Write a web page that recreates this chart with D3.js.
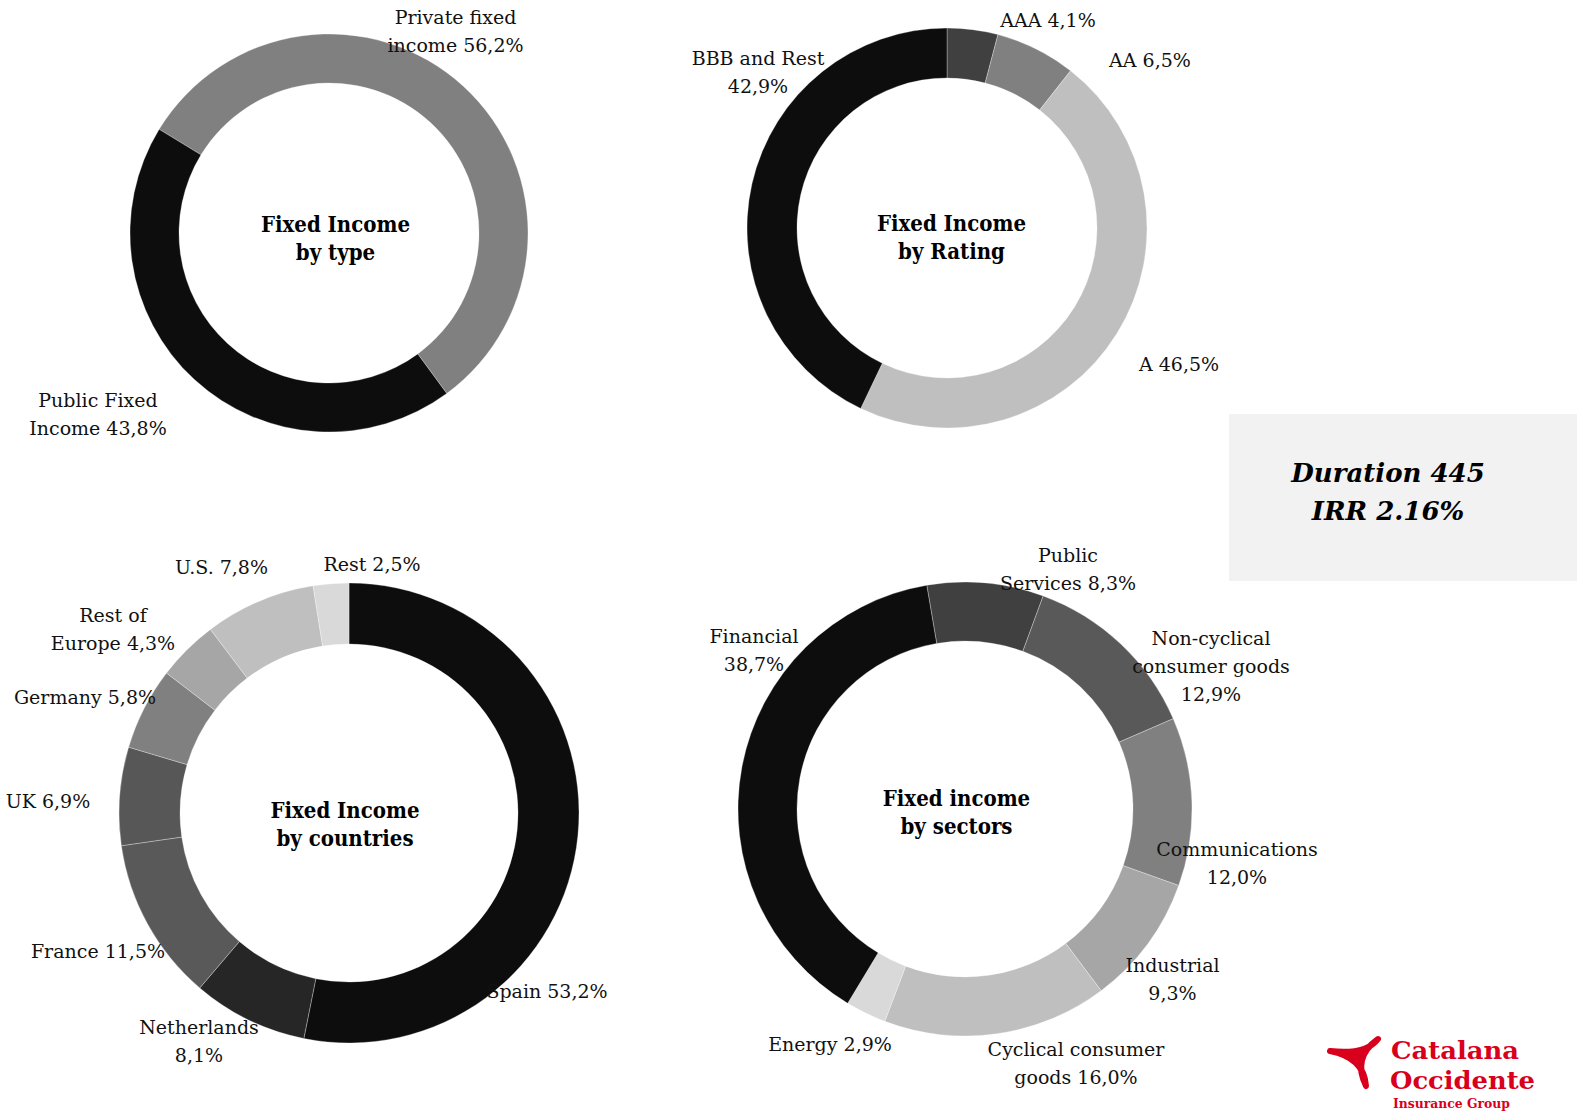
<!DOCTYPE html>
<html>
<head>
<meta charset="utf-8">
<script src="https://cdn.jsdelivr.net/npm/d3@7/dist/d3.min.js"></script>
<style>
  html, body { margin: 0; padding: 0; background: #ffffff; }
  svg { display: block; }
</style>
</head>
<body>
<svg id="chart" width="1578" height="1111"></svg>
<script>
// ---------- DATA ----------
const typeCategories = ["Private fixed|income {v}", "Public Fixed|Income {v}"];
const typeValues = [56.2, 43.8];

const ratingCategories = ["AAA {v}", "AA {v}", "A {v}", "BBB and Rest|{v}"];
const ratingValues = [4.1, 6.5, 46.5, 42.9];

const countryCategories = ["Spain {v}", "Netherlands|{v}", "France {v}", "UK {v}", "Germany {v}", "Rest of|Europe {v}", "U.S. {v}", "Rest {v}"];
const countryValues = [53.2, 8.1, 11.5, 6.9, 5.8, 4.3, 7.8, 2.5];

const sectorCategories = ["Public|Services {v}", "Non-cyclical|consumer goods|{v}", "Communications|{v}", "Industrial|{v}", "Cyclical consumer|goods {v}", "Energy {v}", "Financial|{v}"];
const sectorValues = [8.3, 12.9, 12.0, 9.3, 16.0, 2.9, 38.7];

const chartTitles = [["Fixed Income", "by type"], ["Fixed Income", "by Rating"], ["Fixed Income", "by countries"], ["Fixed income", "by sectors"]];
const boxLines = ["Duration 445", "IRR 2.16%"];
const logoLines = ["Catalana", "Occidente", "Insurance Group"];

// ---------- STYLE / LAYOUT ----------
const typeColors = ["#808080", "#0d0d0d"];
const ratingColors = ["#404040", "#808080", "#bfbfbf", "#0d0d0d"];
const countryColors = ["#0d0d0d", "#262626", "#595959", "#575757", "#808080", "#a6a6a6", "#bfbfbf", "#d9d9d9"];
const sectorColors = ["#404040", "#595959", "#808080", "#a6a6a6", "#bfbfbf", "#d9d9d9", "#0d0d0d"];

const donuts = [
  { cx: 329, cy: 233, rIn: 150, rOut: 199, start: -58.6, cats: typeCategories, vals: typeValues, colors: typeColors,
    title: chartTitles[0], titlePos: [335.5, 232],
    labelPos: [[455.5, 24], [98, 407]] },
  { cx: 947, cy: 228, rIn: 150, rOut: 200, start: 0, cats: ratingCategories, vals: ratingValues, colors: ratingColors,
    title: chartTitles[1], titlePos: [951.5, 231],
    labelPos: [[1048, 27], [1150, 67], [1179, 371], [758, 65]] },
  { cx: 349, cy: 813, rIn: 169, rOut: 230, start: 0, cats: countryCategories, vals: countryValues, colors: countryColors,
    title: chartTitles[2], titlePos: [345, 818],
    labelPos: [[547, 998], [199, 1034], [98, 958], [48, 808], [85, 704], [113, 622], [221.5, 574], [372, 571]] },
  { cx: 965, cy: 809, rIn: 168, rOut: 227, start: -9.7, cats: sectorCategories, vals: sectorValues, colors: sectorColors,
    title: chartTitles[3], titlePos: [956.5, 806],
    labelPos: [[1068, 562], [1211, 645], [1237, 856], [1172.5, 972], [1076, 1056], [830, 1051], [754, 643]] }
];

const labelFont = "'DejaVu Serif', serif";
const titleFont = "'DejaVu Serif Condensed', 'DejaVu Serif', serif";
const lineH = 28;
const fmt = v => d3.format(".1f")(v).replace(".", ",") + "%";

// ---------- DRAW ----------
const svg = d3.select("#chart");

donuts.forEach(dn => {
  const a0 = dn.start * Math.PI / 180;
  const pie = d3.pie().sort(null).value(d => d).startAngle(a0).endAngle(a0 + 2 * Math.PI);
  const arc = d3.arc().innerRadius(dn.rIn).outerRadius(dn.rOut);
  const g = svg.append("g").attr("transform", `translate(${dn.cx},${dn.cy})`);
  g.selectAll("path.slice")
    .data(pie(dn.vals))
    .join("path")
    .attr("class", "slice")
    .attr("d", arc)
    .attr("fill", (d, i) => dn.colors[i])
    .attr("stroke", "#ffffff")
    .attr("stroke-opacity", 0.5)
    .attr("stroke-width", 0.6);

  // slice labels
  dn.cats.forEach((c, i) => {
    const lines = c.replace("{v}", fmt(dn.vals[i])).split("|");
    const t = svg.append("text")
      .attr("x", dn.labelPos[i][0])
      .attr("y", dn.labelPos[i][1])
      .attr("text-anchor", "middle")
      .attr("font-family", labelFont)
      .attr("font-size", 19)
      .attr("fill", "#111");
    lines.forEach((ln, k) => {
      t.append("tspan").attr("x", dn.labelPos[i][0]).attr("dy", k === 0 ? 0 : lineH).text(ln);
    });
  });

  // center title
  const tt = svg.append("text")
    .attr("x", dn.titlePos[0]).attr("y", dn.titlePos[1])
    .attr("text-anchor", "middle")
    .attr("font-family", titleFont)
    .attr("font-weight", "bold")
    .attr("font-size", 22)
    .attr("fill", "#000");
  dn.title.forEach((ln, k) => {
    tt.append("tspan").attr("x", dn.titlePos[0]).attr("dy", k === 0 ? 0 : lineH).text(ln);
  });
});

// ---------- info box ----------
svg.append("rect")
  .attr("x", 1229).attr("y", 414).attr("width", 348).attr("height", 167)
  .attr("fill", "#f2f2f2");
const bt = svg.append("text")
  .attr("x", 1388).attr("y", 482)
  .attr("text-anchor", "middle")
  .attr("font-family", labelFont)
  .attr("font-weight", "bold")
  .attr("font-style", "italic")
  .attr("font-size", 26)
  .attr("fill", "#000");
boxLines.forEach((ln, k) => bt.append("tspan").attr("x", 1388).attr("dy", k === 0 ? 0 : 38).text(ln));

// ---------- logo ----------
const red = "#d9001d";
const logo = svg.append("g");
logo.append("path")
  .attr("d", "M1330,1051 Q1366,1055 1378,1039 Q1352,1057.5 1366,1086 Q1364,1057.5 1330,1051 Z")
  .attr("fill", red).attr("stroke", red).attr("stroke-width", 6).attr("stroke-linejoin", "round");
const logoSpecs = [
  { x: 1391, y: 1059, size: 25, len: 128 },
  { x: 1390, y: 1089, size: 25, len: 145 },
  { x: 1393, y: 1108, size: 13, len: 117 }
];
logoLines.forEach((ln, i) => {
  const s = logoSpecs[i];
  logo.append("text")
    .attr("x", s.x).attr("y", s.y)
    .attr("font-family", titleFont).attr("font-weight", "bold")
    .attr("font-size", s.size).attr("fill", red)
    .attr("textLength", s.len).attr("lengthAdjust", "spacingAndGlyphs")
    .text(ln);
});
</script>
</body>
</html>
